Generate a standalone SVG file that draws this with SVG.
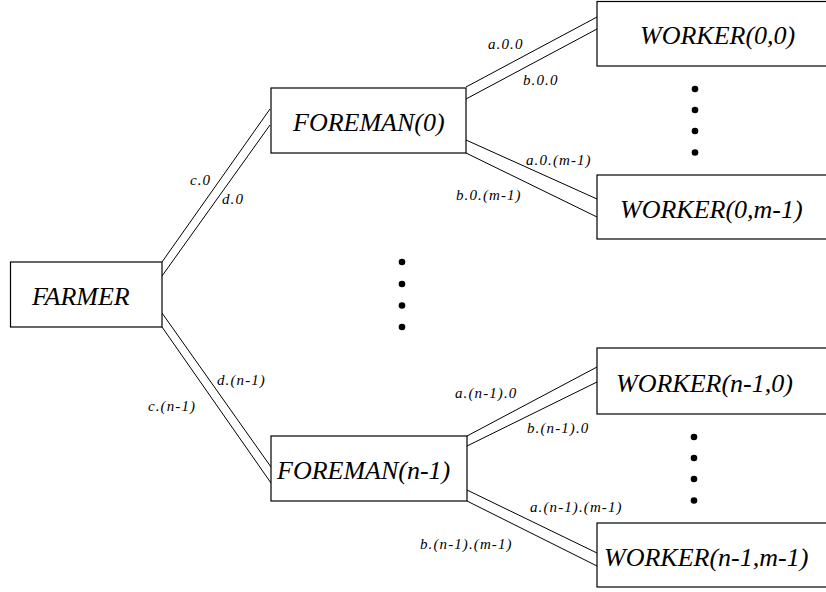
<svg xmlns="http://www.w3.org/2000/svg" width="826" height="592" viewBox="0 0 826 592">
<style>
.box{fill:#fff;stroke:#000;stroke-width:1.2}
.nt{font-family:"Liberation Serif","Times New Roman",serif;font-style:italic;font-size:26px;fill:#000}
.lb{font-family:"Liberation Serif","Times New Roman",serif;font-style:italic;font-size:15px;letter-spacing:1.1px;fill:#000}
.ln{stroke:#000;stroke-width:1;fill:none}
.dot{fill:#000}
</style>
<rect width="826" height="592" fill="#fff"/>
<g id="connectors">
<line class="ln" x1="162" y1="262" x2="270" y2="109"/>
<line class="ln" x1="162" y1="276" x2="270" y2="125"/>
<line class="ln" x1="162" y1="313" x2="271" y2="467"/>
<line class="ln" x1="162" y1="327" x2="271" y2="483"/>
<line class="ln" x1="466" y1="87" x2="597" y2="17"/>
<line class="ln" x1="466" y1="99" x2="597" y2="29"/>
<line class="ln" x1="466" y1="140" x2="597" y2="199"/>
<line class="ln" x1="466" y1="153" x2="597" y2="217"/>
<line class="ln" x1="467" y1="436" x2="597" y2="367"/>
<line class="ln" x1="467" y1="446" x2="597" y2="382"/>
<line class="ln" x1="467" y1="490" x2="597" y2="553"/>
<line class="ln" x1="467" y1="501" x2="597" y2="566"/>
<text class="lb" x="190" y="185">c.0</text>
<text class="lb" x="222" y="204">d.0</text>
<text class="lb" x="217" y="385">d.(n-1)</text>
<text class="lb" x="148" y="411">c.(n-1)</text>
<text class="lb" x="488" y="49">a.0.0</text>
<text class="lb" x="523" y="85">b.0.0</text>
<text class="lb" x="526" y="165">a.0.(m-1)</text>
<text class="lb" x="456" y="200">b.0.(m-1)</text>
<text class="lb" x="455" y="398">a.(n-1).0</text>
<text class="lb" x="527" y="433">b.(n-1).0</text>
<text class="lb" x="530" y="512">a.(n-1).(m-1)</text>
<text class="lb" x="420" y="549">b.(n-1).(m-1)</text>
</g>
<g id="farmer">
<rect class="box" x="10.5" y="262" width="151.5" height="65"/>
<text class="nt" x="32" y="305">FARMER</text>
</g>
<g id="foreman0">
<rect class="box" x="271" y="88" width="195" height="65"/>
<text class="nt" x="293" y="131">FOREMAN(0)</text>
</g>
<g id="foremanN">
<rect class="box" x="271" y="436" width="196" height="65"/>
<text class="nt" x="277" y="479">FOREMAN(n-1)</text>
</g>
<g id="worker00">
<rect class="box" x="597" y="1.5" width="240" height="64.5"/>
<text class="nt" x="640" y="44">WORKER(0,0)</text>
</g>
<g id="worker0m">
<rect class="box" x="597" y="175" width="240" height="64"/>
<text class="nt" x="620" y="218">WORKER(0,m-1)</text>
</g>
<g id="workerN0">
<rect class="box" x="597" y="348" width="240" height="66"/>
<text class="nt" x="616" y="392">WORKER(n-1,0)</text>
</g>
<g id="workerNm">
<rect class="box" x="597" y="523" width="240" height="64"/>
<text class="nt" x="604" y="566">WORKER(n-1,m-1)</text>
</g>
<g id="ellipses">
<circle class="dot" cx="402" cy="262" r="3.3"/>
<circle class="dot" cx="402" cy="284" r="3.3"/>
<circle class="dot" cx="402" cy="305.5" r="3.3"/>
<circle class="dot" cx="402" cy="327" r="3.3"/>
<circle class="dot" cx="695" cy="89" r="3.3"/>
<circle class="dot" cx="695" cy="110" r="3.3"/>
<circle class="dot" cx="695" cy="131" r="3.3"/>
<circle class="dot" cx="695" cy="152.5" r="3.3"/>
<circle class="dot" cx="694" cy="437" r="3.3"/>
<circle class="dot" cx="694" cy="458" r="3.3"/>
<circle class="dot" cx="694" cy="479" r="3.3"/>
<circle class="dot" cx="694" cy="500.5" r="3.3"/>
</g>
</svg>
